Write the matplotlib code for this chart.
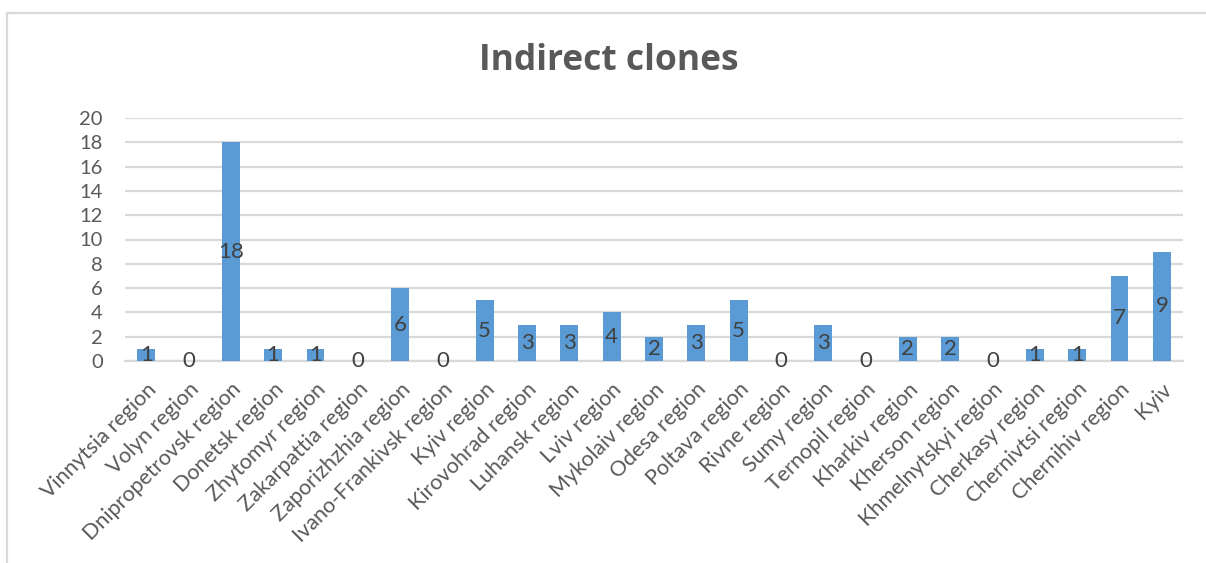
import matplotlib
matplotlib.use("Agg")
import matplotlib.pyplot as plt
from matplotlib.lines import Line2D

plt.rcParams['font.family'] = ['Lato', 'DejaVu Sans']

categories = [
    "Vinnytsia region", "Volyn region", "Dnipropetrovsk region", "Donetsk region",
    "Zhytomyr region", "Zakarpattia region", "Zaporizhzhia region",
    "Ivano-Frankivsk region", "Kyiv region", "Kirovohrad region", "Luhansk region",
    "Lviv region", "Mykolaiv region", "Odesa region", "Poltava region",
    "Rivne region", "Sumy region", "Ternopil region", "Kharkiv region",
    "Kherson region", "Khmelnytskyi region", "Cherkasy region",
    "Chernivtsi region", "Chernihiv region", "Kyiv",
]
values = [1, 0, 18, 1, 1, 0, 6, 0, 5, 3, 3, 4, 2, 3, 5, 0, 3, 0, 2, 2, 0, 1, 1, 7, 9]
yticks = list(range(0, 21, 2))
title = "Indirect clones"

W, H = 1206, 563
fig = plt.figure(figsize=(W / 100, H / 100), dpi=100)

# plot area in pixel coordinates
left, right, top, bottom = 125, 1183, 118, 361
ax = fig.add_axes([left / W, 1 - bottom / H, (right - left) / W, (bottom - top) / H])

text_grey = "#595959"
bar_color = "#5B9BD5"
grid_color = "#D9D9D9"

x = list(range(len(categories)))
ax.bar(x, values, width=0.42, color=bar_color, zorder=3)

for xi, v in zip(x, values):
    ax.text(xi, v / 2, str(v), ha="center", va="center", fontsize=16,
            color="#404040", zorder=4)

ax.set_xlim(-0.5, len(categories) - 0.5)
ax.set_ylim(0, 20)
ax.set_yticks(yticks)
ax.set_yticklabels([str(t) for t in yticks], fontsize=14.5, color=text_grey)
ax.yaxis.grid(True, color=grid_color, linewidth=1.6, zorder=0)
ax.set_axisbelow(True)
ax.tick_params(axis="y", length=0, pad=16)
ax.tick_params(axis="x", length=0, pad=13)
ax.set_xticks(x)
ax.set_xticklabels(categories, rotation=45, ha="right", va="top",
                   rotation_mode="anchor", fontsize=15.5, color=text_grey)
for s in ["top", "right", "left"]:
    ax.spines[s].set_visible(False)
ax.spines["bottom"].set_color(grid_color)
ax.spines["bottom"].set_linewidth(1.6)

fig.text(609 / W, 1 - 61 / H, title, ha="center", va="center",
         fontsize=25.5, fontweight="bold", color=text_grey, family="Open Sans")

# chart frame
frame_color = "#D9D9D9"
fig.add_artist(Line2D([7 / W, 1.0], [1 - 13 / H, 1 - 13 / H],
                      transform=fig.transFigure, color=frame_color, linewidth=1.6))
fig.add_artist(Line2D([7 / W, 7 / W], [1 - 13 / H, 0.0],
                      transform=fig.transFigure, color=frame_color, linewidth=1.6))

fig.savefig("out.png", dpi=100)
